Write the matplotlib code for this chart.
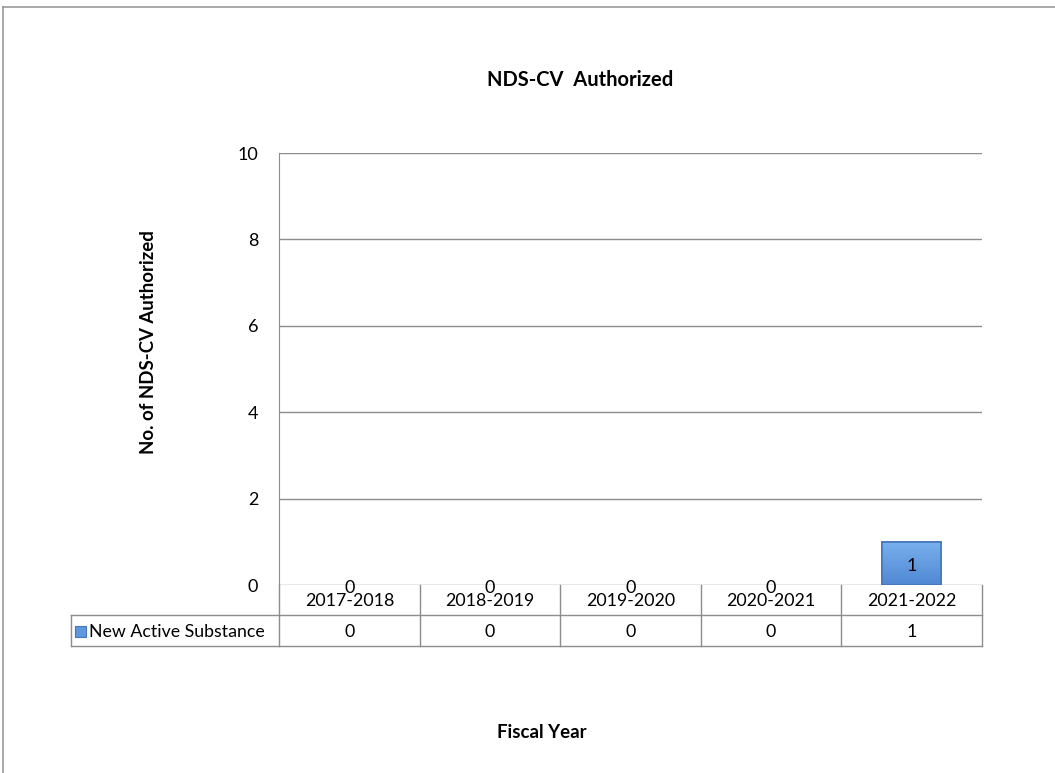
import matplotlib
matplotlib.use("Agg")
import matplotlib.pyplot as plt
import numpy as np
from matplotlib.patches import Rectangle
from matplotlib.lines import Line2D
from matplotlib.colors import LinearSegmentedColormap

# данные по годам
fiscal_years = ["2017-2018", "2018-2019", "2019-2020", "2020-2021", "2021-2022"]
series_name = "New Active Substance"
new_active = [0, 0, 0, 0, 1]
y_ticks = [0, 2, 4, 6, 8, 10]

plt.rcParams['font.family'] = ['Lato', 'DejaVu Sans']
grid_col = '#8c8c8c'
bar_col = '#5f97dc'
bar_edge = '#4677bb'
grad = LinearSegmentedColormap.from_list("bar_grad", ['#5088d4', '#79b0ee'])

W, H = 1055, 773
fig = plt.figure(figsize=(W / 100, H / 100), dpi=100)
ax = fig.add_axes([279 / W, 1 - 585 / H, (982 - 279) / W, (585 - 153) / H])

x = list(range(len(fiscal_years)))
bars = ax.bar(x, new_active, width=0.42, color=bar_col, edgecolor=bar_edge,
              linewidth=1.2, zorder=3)
# градиентная заливка столбцов
for b, v in zip(bars, new_active):
    if v == 0:
        b.set_linewidth(0)
        continue
    x0, w = b.get_x(), b.get_width()
    im = ax.imshow(np.linspace(0, 1, 64).reshape(-1, 1), cmap=grad, origin='lower',
                   extent=[x0, x0 + w, 0, v], aspect='auto', zorder=3.5)
    im.set_clip_path(b)
    ax.add_patch(Rectangle((x0, 0), w, v, facecolor='none', edgecolor=bar_edge,
                           linewidth=1.2, zorder=3.6))

for xi, v in zip(x, new_active):
    ax.annotate(str(v), (xi, v / 2), xytext=(0, -2), textcoords='offset points',
                ha='center', va='center', fontsize=13, zorder=5, annotation_clip=False)

ax.set_xlim(-0.5, len(fiscal_years) - 0.5)
ax.set_ylim(0, 10)
ax.set_yticks(y_ticks)
ax.set_yticklabels([str(t) for t in y_ticks], fontsize=13)
ax.tick_params(axis='y', length=0, pad=15)
ax.set_xticks([])
ax.yaxis.grid(True, color=grid_col, linewidth=1)
ax.set_axisbelow(True)
for s in ['top', 'right', 'bottom']:
    ax.spines[s].set_visible(False)
ax.spines['left'].set_color(grid_col)

# таблица данных под осью (в долях оси)
n = len(fiscal_years)
px_w, px_h = 703, 432
head_b = -30 / px_h
data_b = -61 / px_h
leg_l = -208 / px_w
kw = dict(transform=ax.transAxes, clip_on=False, color=grid_col, linewidth=1, zorder=4)

ax.plot([0, 1], [head_b, head_b], **kw)
ax.plot([leg_l, 1], [data_b, data_b], **kw)
ax.plot([leg_l, 0], [head_b, head_b], **kw)
ax.plot([leg_l, leg_l], [head_b, data_b], **kw)
for i in range(n + 1):
    ax.plot([i / n, i / n], [0, data_b], **kw)

for i, (yr, v) in enumerate(zip(fiscal_years, new_active)):
    xc = (i + 0.5) / n
    ax.text(xc, -16 / px_h, yr, transform=ax.transAxes, ha='center', va='center',
            fontsize=12.8)
    ax.text(xc, -47 / px_h, str(v), transform=ax.transAxes, ha='center', va='center',
            fontsize=12.8)

ax.text(-190 / px_w, -47 / px_h, series_name, transform=ax.transAxes,
        ha='left', va='center', fontsize=12.8)
ax.add_patch(Rectangle((-204 / px_w, -41 / px_h), 11 / px_w, -11 / px_h,
                       transform=ax.transAxes, facecolor=bar_col,
                       edgecolor=bar_edge, linewidth=0.8, clip_on=False, zorder=6))

fig.text(580 / W, 1 - 80 / H, "NDS-CV  Authorized", ha='center', va='center',
         fontsize=14.5, fontweight='bold')
fig.text(148 / W, 1 - 342 / H, "No. of NDS-CV Authorized", ha='center', va='center',
         rotation=90, fontsize=13.4, fontweight='bold')
fig.text(542 / W, 1 - 733 / H, "Fiscal Year", ha='center', va='center',
         fontsize=13.4, fontweight='bold')

# рамка области диаграммы
fig.add_artist(Line2D([3 / W, 1], [1 - 7 / H, 1 - 7 / H], color='#999999', linewidth=1.2))
fig.add_artist(Line2D([3 / W, 3 / W], [0, 1 - 7 / H], color='#999999', linewidth=1.2))

fig.savefig("out.png", dpi=100)
